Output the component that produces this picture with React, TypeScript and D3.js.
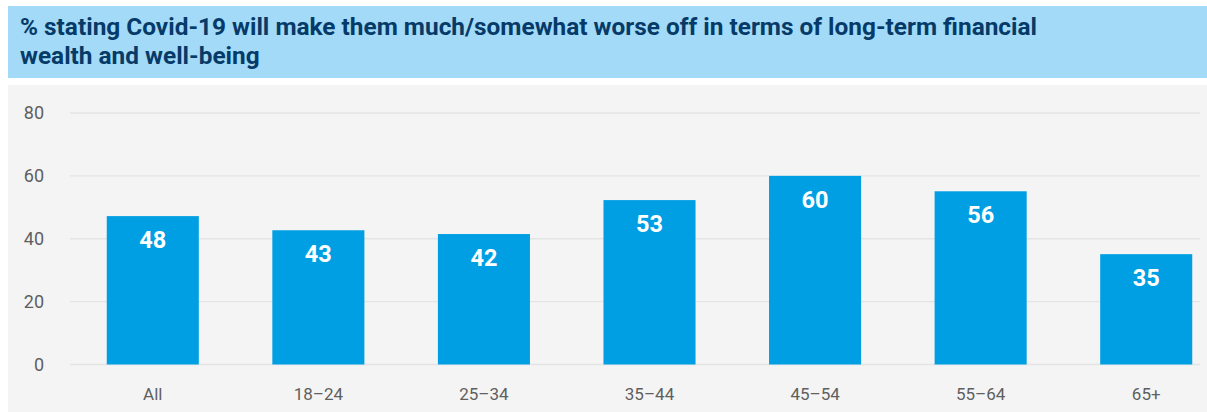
import { useEffect, useRef } from 'react'
import * as d3 from 'd3'

const titleLines = [
  '% stating Covid-19 will make them much/somewhat worse off in terms of long-term financial',
  'wealth and well-being',
]
const categories = ['All', '18–24', '25–34', '35–44', '45–54', '55–64', '65+']
const values = [47.2, 42.7, 41.5, 52.3, 60, 55.1, 35.1]
const valueLabels = ['48', '43', '42', '53', '60', '56', '35']
const yTicks = [0, 20, 40, 60, 80]

export default () => {
  const rootRef = useRef<SVGSVGElement>(null)

  useEffect(() => {
    const width = 1207,
      height = 412
    const svg = d3.select(rootRef.current).attr('width', width).attr('height', height)
    svg.selectAll('*').remove()

    // title band
    svg.append('rect').attr('x', 8).attr('y', 6).attr('width', 1199).attr('height', 72).attr('fill', '#a2daf7')
    svg
      .append('g')
      .selectAll('text')
      .data(titleLines)
      .join('text')
      .attr('x', 20)
      .attr('y', (d, i) => 35 + i * 29)
      .attr('fill', '#063a68')
      .attr('font-family', 'Roboto, sans-serif')
      .attr('font-weight', 700)
      .attr('font-size', 24.4)
      .text((d) => d)

    // chart panel
    svg.append('rect').attr('x', 8).attr('y', 85).attr('width', 1199).attr('height', 327).attr('fill', '#f4f4f4')

    const x = d3.scaleBand<string>().domain(categories).range([70, 1229]).paddingInner(0.444).paddingOuter(0.222)
    const y = d3.scaleLinear().domain([0, 80]).range([364.5, 113])

    // gridlines
    svg
      .append('g')
      .selectAll('line')
      .data(yTicks)
      .join('line')
      .attr('x1', 70)
      .attr('x2', 1200)
      .attr('y1', (d) => y(d))
      .attr('y2', (d) => y(d))
      .attr('stroke', '#e4e4e4')
      .attr('stroke-width', 1.3)

    // y tick labels
    svg
      .append('g')
      .selectAll('text')
      .data(yTicks)
      .join('text')
      .attr('x', 44)
      .attr('y', (d) => y(d))
      .attr('dy', '0.35em')
      .attr('text-anchor', 'end')
      .attr('fill', '#5f5f5f')
      .attr('font-family', 'Roboto, sans-serif')
      .attr('font-size', 18)
      .text((d) => d)

    // bars
    svg
      .append('g')
      .selectAll('rect')
      .data(values)
      .join('rect')
      .attr('x', (d, i) => x(categories[i])!)
      .attr('width', x.bandwidth())
      .attr('y', (d) => y(d))
      .attr('height', (d) => y(0) - y(d))
      .attr('fill', '#009fe3')

    // value labels
    svg
      .append('g')
      .selectAll('text')
      .data(values)
      .join('text')
      .attr('x', (d, i) => x(categories[i])! + x.bandwidth() / 2)
      .attr('y', (d) => y(d) + 32)
      .attr('text-anchor', 'middle')
      .attr('fill', '#ffffff')
      .attr('font-family', 'Roboto, sans-serif')
      .attr('font-weight', 700)
      .attr('font-size', 23.5)
      .text((d, i) => valueLabels[i])

    // x labels
    svg
      .append('g')
      .selectAll('text')
      .data(categories)
      .join('text')
      .attr('x', (d) => x(d)! + x.bandwidth() / 2)
      .attr('y', 400)
      .attr('text-anchor', 'middle')
      .attr('fill', '#5f5f5f')
      .attr('font-family', 'Roboto, sans-serif')
      .attr('font-size', 17)
      .text((d) => d)
  }, [])

  return <svg ref={rootRef} style={{ position: 'absolute', left: 0, top: 0 }}></svg>
}
